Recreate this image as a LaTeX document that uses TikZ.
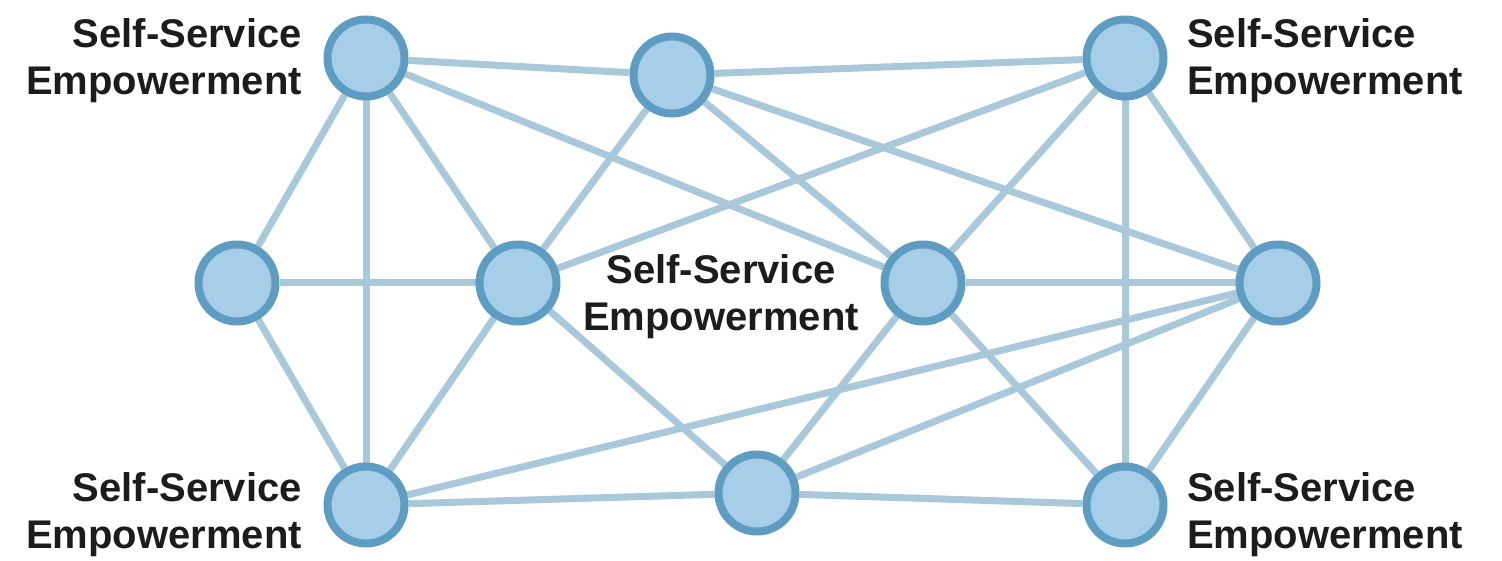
\documentclass[tikz,border=0pt]{standalone}
\usepackage{fontspec}
\setmainfont{Liberation Sans}
\usetikzlibrary{backgrounds}
\definecolor{nodefill}{HTML}{A6CEE8}
\definecolor{nodeedge}{HTML}{5E9DC1}
\definecolor{linkcol}{HTML}{A9C9DA}
\definecolor{txt}{HTML}{1C1C1C}
\tikzset{
  hub/.style={circle, draw=nodeedge, fill=nodefill, line width=8pt, minimum size=77pt, inner sep=0pt},
  link/.style={draw=linkcol, line width=7pt},
  lbl/.style={font=\bfseries\fontsize{40}{47}\selectfont, text=txt, inner sep=0pt},
}
\begin{document}
\begin{tikzpicture}[x=1pt,y=-1pt]
\useasboundingbox (0,0) rectangle (1502,561);
\node[hub] (A) at (366,58) {};
\node[hub] (B) at (672,75) {};
\node[hub] (C) at (1125,58) {};
\node[hub] (D) at (237,283) {};
\node[hub] (E) at (518,283) {};
\node[hub] (F) at (923,283) {};
\node[hub] (G) at (1278,283) {};
\node[hub] (H) at (366,505) {};
\node[hub] (I) at (757,493) {};
\node[hub] (J) at (1125,505) {};
\begin{scope}[on background layer]
\fill[white] (0,0) rectangle (1502,561);
\foreach \u/\v in {A/B,A/D,A/E,A/H,A/F,B/C,B/E,B/F,B/G,C/E,C/F,C/G,C/J,D/E,D/H,E/H,E/I,F/G,F/I,F/J,G/H,G/I,G/J,H/I,I/J}
  \path[link] (\u) -- (\v);
\end{scope}
\node[lbl, align=right, anchor=east] (tl) at (302,61) {Self-Service\\Empowerment};
\node[lbl, align=left, anchor=west] (tr) at (1187,61) {Self-Service\\Empowerment};
\node[lbl, align=center] (mc) at (721,297) {Self-Service\\Empowerment};
\node[lbl, align=right, anchor=east] (bl) at (302,515) {Self-Service\\Empowerment};
\node[lbl, align=left, anchor=west] (br) at (1187,515) {Self-Service\\Empowerment};
\end{tikzpicture}
\end{document}
